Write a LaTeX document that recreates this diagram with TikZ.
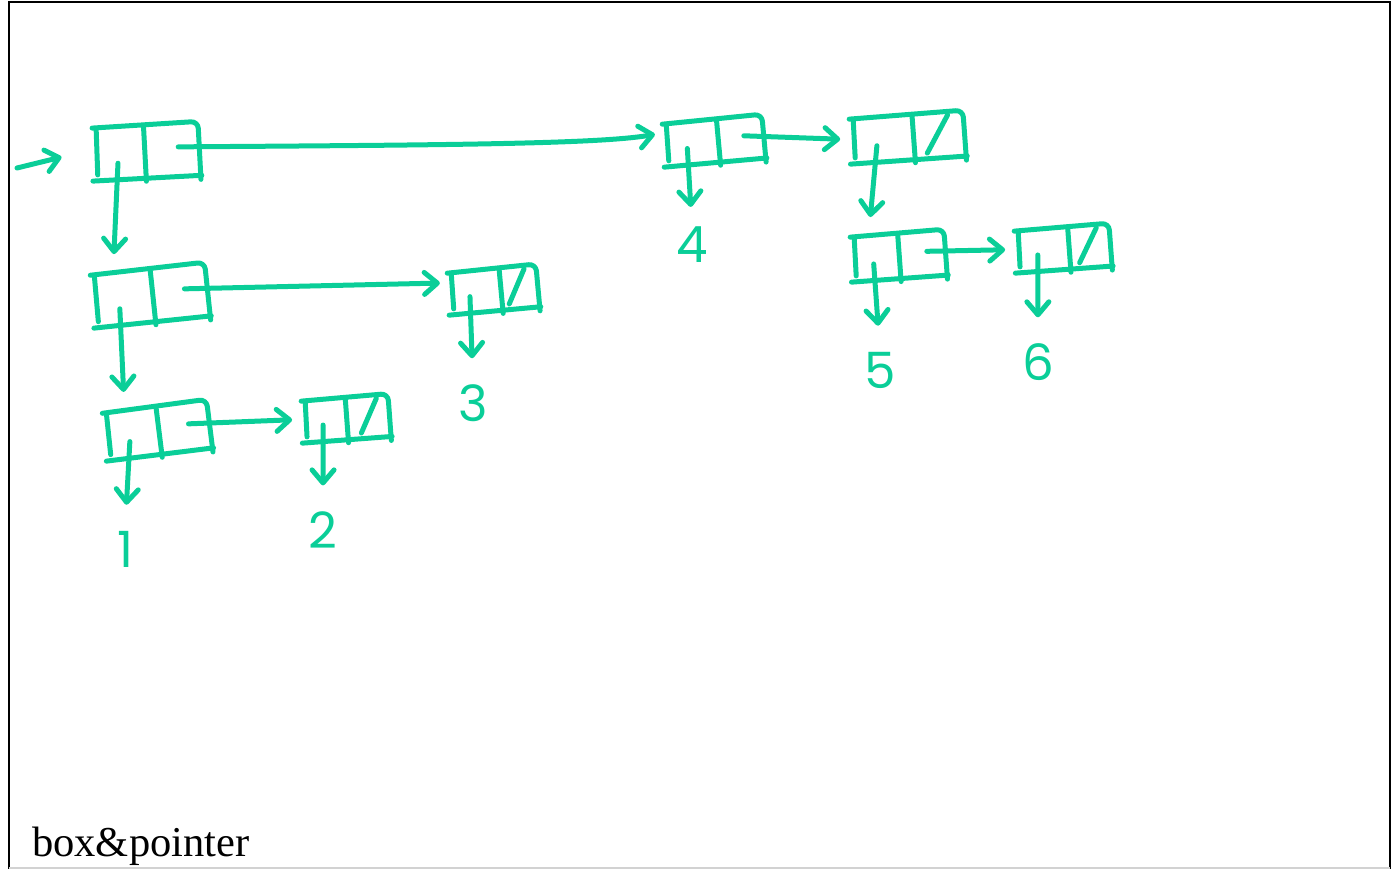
\documentclass[tikz,border=0pt]{standalone}
\usepackage{fontspec}
\setmainfont{Liberation Serif}
\newfontfamily\digitfont{Poppins}
\usetikzlibrary{arrows.meta}
\definecolor{ink}{RGB}{10,206,152}
\tikzset{
  pen/.style={draw=ink, line width=5pt, line cap=round, line join=round},
  ptr/.style={pen, -{Straight Barb[length=13pt,width=22pt,round]}},
  val/.style={text=ink, font=\digitfont\fontsize{50}{50}\selectfont, inner sep=0pt},
  % a cons cell: #1 width, #2 height, #3 divider position (fraction), #4 = 1 for an empty cdr
  pics/cell/.style n args={4}{code={
    \path[pen, rounded corners=7pt] (-3,3) -- (#1,0) -- (#1+1,#2+3);
    \path[pen] (1,5) -- (1,#2-5);
    \path[pen] (-4,#2+1) -- (#1+2,#2-1);
    \path[pen] (#3*#1,2) -- (#3*#1+1,#2+3);
    \ifnum#4=1\relax \path[pen] (0.66*#1,#2-6) -- (0.86*#1,4); \fi
    \coordinate (-car) at (0.21*#1,#2-16);
    \coordinate (-cdr) at (0.8*#1,0.45*#2);
    \coordinate (-top) at (0.2*#1,-16);
    \coordinate (-in) at (-13,0.48*#2);
    \coordinate (-inhigh) at (-11,0.28*#2);
  }},
}
\begin{document}
\begin{tikzpicture}[x=1pt,y=-1pt]
\useasboundingbox (0,0) rectangle (1393,869);

% frame
\draw[line width=2pt] (9,869) -- (9,2.5) -- (1390,2.5) -- (1390,869);
\draw[gray!35, line width=1.5pt] (9,868) -- (1390,868);

% cells
\pic[rotate=2] (A) at (95,125)  {cell={103}{55}{0.47}{0}};
\pic[rotate=5] (B) at (93,272)  {cell={112}{55}{0.51}{0}};
\pic[rotate=6] (C) at (105,410) {cell={102}{50}{0.50}{0}};
\pic[rotate=3] (D) at (304,398) {cell={84}{44}{0.49}{1}};
\pic[rotate=4] (E) at (450,270) {cell={86}{44}{0.57}{1}};
\pic[rotate=4] (F) at (665,121) {cell={97}{45}{0.53}{0}};
\pic[rotate=3] (G) at (852,116) {cell={111}{47}{0.54}{1}};
\pic[rotate=3] (H) at (853,234) {cell={91}{47}{0.49}{0}};
\pic[rotate=3] (I) at (1017,228) {cell={92}{44}{0.55}{1}};

% values
\node[val] (v1) at (125,549) {1};
\node[val] (v2) at (323,530) {2};
\node[val] (v3) at (473,403) {3};
\node[val] (v4) at (692,245) {4};
\node[val] (v5) at (880,370) {5};
\node[val] (v6) at (1038,362) {6};

% pointers
\coordinate (entry) at (17,168);
\draw[ptr, shorten >=22pt] (entry) -- (A-in);
\draw[ptr] (A-car) -- (B-top);
\draw[ptr] (A-cdr) .. controls (450,145) and (600,144) .. (F-inhigh);
\draw[ptr] (B-car) -- (C-top);
\draw[ptr] (B-cdr) -- (E-inhigh);
\draw[ptr] (C-cdr) -- (D-in);
\draw[ptr] (F-cdr) -- (G-in);
\draw[ptr] (G-car) -- (H-top);
\draw[ptr] (H-cdr) -- (I-in);

\draw[ptr, shorten >=26pt] (C-car) -- (v1.north);
\draw[ptr, shorten >=26pt] (D-car) -- (v2.north);
\draw[ptr, shorten >=26pt] (E-car) -- (v3.north);
\draw[ptr, shorten >=20pt] (F-car) -- (v4.north);
\draw[ptr, shorten >=26pt] (H-car) -- (v5.north);
\draw[ptr, shorten >=26pt] (I-car) -- (v6.north);

% caption
\node[anchor=base west, inner sep=0pt, font=\fontsize{42.5}{50}\selectfont] (caption) at (32,856) {box\&pointer};
\end{tikzpicture}
\end{document}
